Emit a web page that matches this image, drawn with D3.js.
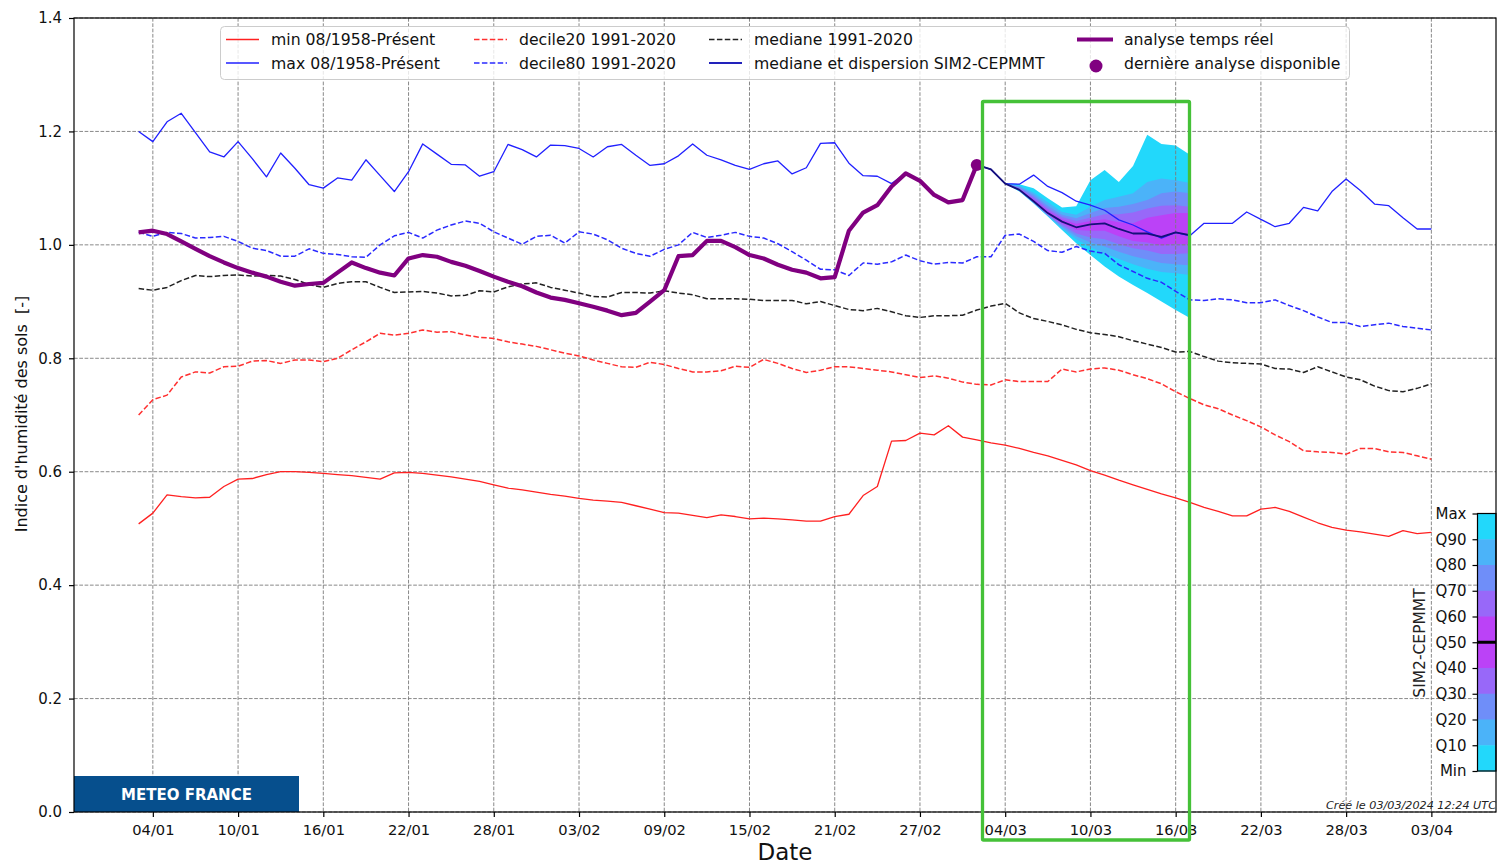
<!DOCTYPE html>
<html>
<head>
<meta charset="utf-8">
<script src="https://cdn.jsdelivr.net/npm/d3@7"></script>
<style>
  html, body { margin: 0; padding: 0; background: #fff; }
  svg { display: block; font-family: "DejaVu Sans", sans-serif; }
</style>
</head>
<body>
<svg id="chart" width="1497" height="865"></svg>
<script>
// ---------------- DATA ----------------
const startDay = "03/01/2024";   // first day of the series (dd/mm/yyyy)
const nDays = 92;                 // 03/01/2024 -> 03/04/2024

const tickLabels = ["04/01","10/01","16/01","22/01","28/01","03/02","09/02","15/02",
                    "21/02","27/02","04/03","10/03","16/03","22/03","28/03","03/04"];
const yTicks = [0.0, 0.2, 0.4, 0.6, 0.8, 1.0, 1.2, 1.4];

const minSeries = [
 0.508,0.527,0.559,0.556,0.554,0.555,0.574,0.587,0.588,0.595,
 0.600,0.600,0.599,0.597,0.595,0.593,0.590,0.587,0.598,0.599,
 0.597,0.594,0.591,0.587,0.583,0.577,0.571,0.568,0.564,0.560,
 0.557,0.553,0.550,0.548,0.546,0.540,0.534,0.528,0.527,0.523,
 0.519,0.524,0.521,0.517,0.518,0.517,0.515,0.513,0.513,0.521,
 0.525,0.558,0.574,0.654,0.655,0.668,0.665,0.681,0.661,0.656,
 0.651,0.647,0.641,0.634,0.628,0.620,0.612,0.602,0.594,0.585,
 0.577,0.569,0.561,0.554,0.546,0.537,0.530,0.522,0.522,0.534,
 0.537,0.530,0.520,0.510,0.502,0.497,0.494,0.490,0.486,0.496,
 0.491,0.493];

const maxSeries = [
 1.200,1.182,1.217,1.232,1.198,1.164,1.155,1.182,1.152,1.120,
 1.162,1.135,1.106,1.100,1.118,1.114,1.150,1.122,1.094,1.129,
 1.178,1.160,1.142,1.141,1.121,1.129,1.177,1.168,1.155,1.176,
 1.175,1.170,1.155,1.173,1.177,1.158,1.140,1.143,1.157,1.178,
 1.158,1.150,1.140,1.133,1.143,1.148,1.125,1.136,1.179,1.180,
 1.144,1.122,1.121,1.108,1.126,1.113,1.088,1.075,1.079,1.141,
 1.133,1.108,1.107,1.123,1.103,1.092,1.077,1.070,1.061,1.044,
 1.035,1.023,1.012,1.022,1.016,1.038,1.038,1.038,1.058,1.045,
 1.032,1.038,1.066,1.060,1.094,1.116,1.096,1.072,1.069,1.048,
 1.028,1.028];

const decile20 = [
 0.700,0.727,0.735,0.767,0.776,0.774,0.785,0.786,0.795,0.796,
 0.791,0.797,0.797,0.794,0.800,0.815,0.829,0.844,0.841,0.844,
 0.850,0.846,0.847,0.841,0.837,0.835,0.829,0.825,0.821,0.815,
 0.809,0.804,0.797,0.791,0.785,0.784,0.793,0.789,0.782,0.776,
 0.776,0.778,0.786,0.784,0.798,0.791,0.782,0.775,0.779,0.785,
 0.785,0.782,0.779,0.776,0.771,0.766,0.769,0.765,0.758,0.754,
 0.753,0.762,0.759,0.759,0.759,0.781,0.776,0.781,0.783,0.779,
 0.771,0.764,0.755,0.741,0.729,0.718,0.711,0.700,0.690,0.679,
 0.665,0.653,0.637,0.635,0.634,0.631,0.641,0.641,0.635,0.634,
 0.628,0.622];

const decile80 = [
 1.022,1.015,1.022,1.020,1.012,1.013,1.015,1.006,0.994,0.990,
 0.980,0.980,0.993,0.985,0.983,0.979,0.978,1.000,1.016,1.022,
 1.012,1.026,1.035,1.042,1.038,1.023,1.012,1.001,1.015,1.017,
 1.003,1.023,1.019,1.009,0.994,0.985,0.980,0.992,1.000,1.022,
 1.013,1.017,1.022,1.015,1.012,1.002,0.988,0.973,0.957,0.956,
 0.946,0.968,0.966,0.970,0.982,0.972,0.966,0.969,0.968,0.979,
 0.979,1.017,1.019,1.006,0.990,0.987,0.997,0.989,0.985,0.965,
 0.953,0.941,0.934,0.918,0.903,0.902,0.905,0.903,0.898,0.898,
 0.903,0.893,0.884,0.873,0.863,0.863,0.856,0.859,0.862,0.856,
 0.853,0.850];

const median19912020 = [
 0.923,0.920,0.925,0.937,0.946,0.944,0.946,0.947,0.945,0.946,
 0.945,0.939,0.930,0.925,0.932,0.935,0.935,0.925,0.916,0.917,
 0.918,0.915,0.910,0.911,0.919,0.917,0.926,0.931,0.933,0.925,
 0.920,0.915,0.909,0.908,0.916,0.916,0.915,0.919,0.915,0.912,
 0.905,0.905,0.905,0.904,0.902,0.902,0.902,0.896,0.900,0.893,
 0.886,0.884,0.888,0.882,0.875,0.872,0.875,0.875,0.876,0.885,
 0.892,0.897,0.880,0.870,0.865,0.859,0.851,0.845,0.842,0.838,
 0.831,0.825,0.819,0.811,0.812,0.803,0.795,0.792,0.791,0.790,
 0.782,0.781,0.775,0.785,0.776,0.767,0.762,0.751,0.743,0.741,
 0.747,0.755];

// real-time analysis: days 0..59
const analysis = [
 1.022,1.025,1.019,1.006,0.993,0.980,0.969,0.959,0.951,0.944,
 0.935,0.928,0.931,0.933,0.951,0.969,0.959,0.951,0.946,0.976,
 0.982,0.979,0.970,0.963,0.954,0.944,0.935,0.927,0.916,0.907,
 0.903,0.897,0.891,0.884,0.876,0.880,0.900,0.920,0.980,0.982,
 1.007,1.007,0.996,0.982,0.976,0.965,0.956,0.951,0.941,0.943,
 1.025,1.057,1.070,1.103,1.126,1.113,1.088,1.075,1.079,1.141];

// SIM2-CEPMMT forecast: days 59..74
const fcStart = 59;
const fcMedian = [1.141,1.133,1.108,1.097,1.077,1.056,1.041,1.031,1.036,1.038,1.028,1.020,1.020,1.014,1.022,1.017];
const fcMin    = [1.141,1.133,1.108,1.094,1.073,1.050,1.026,1.003,0.982,0.962,0.944,0.929,0.915,0.900,0.885,0.871];
const fcQ10    = [1.141,1.133,1.108,1.095,1.074,1.051,1.029,1.010,0.996,0.985,0.975,0.966,0.958,0.952,0.950,0.947];
const fcQ20    = [1.141,1.133,1.108,1.0955,1.0745,1.052,1.032,1.015,1.004,0.997,0.988,0.980,0.974,0.968,0.966,0.964];
const fcQ30    = [1.141,1.133,1.108,1.096,1.075,1.053,1.035,1.020,1.013,1.010,1.001,0.994,0.990,0.984,0.984,0.985];
const fcQ40    = [1.141,1.133,1.108,1.0965,1.076,1.054,1.038,1.026,1.025,1.025,1.015,1.007,1.004,0.999,1.002,1.000];
const fcQ60    = [1.141,1.133,1.108,1.098,1.080,1.060,1.045,1.037,1.042,1.045,1.040,1.038,1.048,1.052,1.056,1.056];
const fcQ70    = [1.141,1.133,1.108,1.100,1.084,1.064,1.049,1.042,1.048,1.054,1.054,1.057,1.064,1.069,1.070,1.067];
const fcQ80    = [1.141,1.133,1.108,1.102,1.088,1.069,1.053,1.047,1.056,1.065,1.067,1.072,1.079,1.091,1.094,1.091];
const fcQ90    = [1.141,1.133,1.108,1.104,1.092,1.075,1.058,1.053,1.067,1.079,1.085,1.091,1.111,1.117,1.114,1.109];
const fcMax    = [1.141,1.133,1.108,1.107,1.100,1.082,1.066,1.068,1.114,1.132,1.111,1.139,1.194,1.178,1.175,1.159];

const colorbarLabels = ["Max","Q90","Q80","Q70","Q60","Q50","Q40","Q30","Q20","Q10","Min"];

// ---------------- STYLE ----------------
const C_CYAN = "#22d8fb", C_LB = "#4bb3f9", C_PW = "#6f8ef9", C_VI = "#9868f9", C_MG = "#bb42f7";
const FONT = "DejaVu Sans";

// ---------------- SCALES ----------------
const parse = d3.utcParse("%d/%m/%Y");
const d0 = parse(startDay);
const dates = d3.range(nDays).map(i => d3.utcDay.offset(d0, i));
const last = dates[dates.length - 1];
const spanMs = last - d0;
const x = d3.scaleUtc()
  .domain([new Date(+d0 - spanMs * 0.05), new Date(+last + spanMs * 0.05)])
  .range([74, 1496]);
const y = d3.scaleLinear().domain([0, 1.4]).range([812, 18]);
const tickDates = tickLabels.map(s => parse(s + "/2024"));

const svg = d3.select("#chart");
svg.append("rect").attr("width", 1497).attr("height", 865).attr("fill", "#fff");

// ---------------- FAN ----------------
const fcDates = dates.slice(fcStart, fcStart + fcMedian.length);
const bands = [
  {lo: fcMin, hi: fcMax, c: C_CYAN},
  {lo: fcQ10, hi: fcQ90, c: C_LB},
  {lo: fcQ20, hi: fcQ80, c: C_PW},
  {lo: fcQ30, hi: fcQ70, c: C_VI},
  {lo: fcQ40, hi: fcQ60, c: C_MG}
];
const gFan = svg.append("g");
bands.forEach(b => {
  const area = d3.area()
    .x((d, i) => x(fcDates[i]))
    .y0((d, i) => y(b.lo[i]))
    .y1((d, i) => y(b.hi[i]));
  gFan.append("path").attr("d", area(fcDates)).attr("fill", b.c).attr("stroke", "none");
});

// ---------------- GRID ----------------
const gGrid = svg.append("g").attr("stroke", "#7c7c7c").attr("stroke-width", 0.9)
  .attr("stroke-dasharray", "3.7,1.6").attr("fill", "none");
tickDates.forEach(t => gGrid.append("line").attr("x1", x(t)).attr("x2", x(t)).attr("y1", 18).attr("y2", 812));
yTicks.forEach(v => gGrid.append("line").attr("x1", 74).attr("x2", 1496).attr("y1", y(v)).attr("y2", y(v)));

// ---------------- LINES ----------------
function drawLine(values, offset, color, width, dash) {
  const line = d3.line().x((d, i) => x(dates[i + offset])).y(d => y(d));
  const p = svg.append("path").attr("d", line(values)).attr("fill", "none")
    .attr("stroke", color).attr("stroke-width", width)
    .attr("stroke-linejoin", "round").attr("stroke-linecap", "butt");
  if (dash) p.attr("stroke-dasharray", dash);
  return p;
}
drawLine(minSeries, 0, "#ff2020", 1.3);
drawLine(maxSeries, 0, "#2020ff", 1.3);
drawLine(decile20, 0, "#ff3030", 1.5, "5.5,2.4");
drawLine(decile80, 0, "#2a2aff", 1.5, "5.5,2.4");
drawLine(median19912020, 0, "#222222", 1.5, "5.5,2.4");
drawLine(fcMedian, fcStart, "#14107a", 1.8);
drawLine(analysis, 0, "#800080", 4.2);
svg.append("circle").attr("cx", x(dates[analysis.length - 1])).attr("cy", y(analysis[analysis.length - 1]))
  .attr("r", 6).attr("fill", "#800080");

// ---------------- LOGO ----------------
svg.append("rect").attr("x", 74).attr("y", 776).attr("width", 225).attr("height", 36).attr("fill", "#064f8d");
svg.append("text").attr("x", 186.5).attr("y", 799.5).attr("text-anchor", "middle")
  .attr("fill", "#fff").attr("font-weight", "bold").attr("font-size", 15).attr("font-family", FONT)
  .text("METEO FRANCE");

// ---------------- COLORBAR ----------------
const cb = {x: 1477.5, top: 513.5, bottom: 771, w: 18.5};
const cbY = d3.scalePoint().domain(colorbarLabels).range([cb.top, cb.bottom]);
const cbColors = [C_CYAN, C_LB, C_PW, C_VI, C_MG, C_MG, C_VI, C_PW, C_LB, C_CYAN];
const step = cbY.step();
cbColors.forEach((c, i) => {
  svg.append("rect").attr("x", cb.x).attr("y", cbY(colorbarLabels[i])).attr("width", cb.w)
    .attr("height", step + 0.5).attr("fill", c);
});
svg.append("line").attr("x1", cb.x).attr("x2", cb.x + cb.w).attr("y1", cbY("Q50")).attr("y2", cbY("Q50"))
  .attr("stroke", "#000").attr("stroke-width", 3);
svg.append("rect").attr("x", cb.x).attr("y", cb.top).attr("width", cb.w).attr("height", cb.bottom - cb.top)
  .attr("fill", "none").attr("stroke", "#000").attr("stroke-width", 1.2);
const cbAxis = d3.axisLeft(cbY).tickSize(5).tickPadding(6);
const gCb = svg.append("g").attr("transform", `translate(${cb.x},0)`).call(cbAxis);
gCb.select(".domain").remove();
gCb.selectAll("text").attr("font-size", 15).attr("font-family", FONT).attr("fill", "#111");
gCb.selectAll("line").attr("stroke", "#000").attr("stroke-width", 1.2);
svg.append("text").attr("transform", "translate(1425,643) rotate(-90)").attr("text-anchor", "middle")
  .attr("font-size", 15.5).attr("font-family", FONT).attr("fill", "#222").text("SIM2-CEPMMT");

// ---------------- AXES ----------------
const xAxis = d3.axisBottom(x).tickValues(tickDates).tickFormat(d3.utcFormat("%d/%m")).tickSize(5).tickPadding(8);
const gx = svg.append("g").attr("transform", "translate(0,812)").call(xAxis);
gx.select(".domain").remove();
gx.selectAll("text").attr("font-size", 14.7).attr("font-family", FONT).attr("fill", "#111");
gx.selectAll("line").attr("stroke", "#000").attr("stroke-width", 1.2);

const yAxis = d3.axisLeft(y).tickValues(yTicks).tickFormat(d3.format(".1f")).tickSize(5).tickPadding(7);
const gy = svg.append("g").attr("transform", "translate(74,0)").call(yAxis);
gy.select(".domain").remove();
gy.selectAll("text").attr("font-size", 15).attr("font-family", FONT).attr("fill", "#111");
gy.selectAll("line").attr("stroke", "#000").attr("stroke-width", 1.2);

svg.append("rect").attr("x", 74).attr("y", 18).attr("width", 1422).attr("height", 794)
  .attr("fill", "none").attr("stroke", "#000").attr("stroke-width", 1.2);

svg.append("text").attr("x", 785).attr("y", 860).attr("text-anchor", "middle")
  .attr("font-size", 23).attr("font-family", FONT).attr("fill", "#111").text("Date");
svg.append("text").attr("transform", "translate(27,414) rotate(-90)").attr("text-anchor", "middle")
  .attr("font-size", 16).attr("font-family", FONT).attr("fill", "#111")
  .style("white-space", "pre").text("Indice d'humidité des sols  [-]");

svg.append("text").attr("x", 1326).attr("y", 809).attr("font-size", 11.2).attr("font-style", "italic")
  .attr("font-family", FONT).attr("fill", "#222").text("Créé le 03/03/2024 12:24 UTC");

// ---------------- LEGEND ----------------
svg.append("rect").attr("x", 220.5).attr("y", 26.5).attr("width", 1129).attr("height", 53).attr("rx", 4)
  .attr("fill", "#fff").attr("fill-opacity", 0.8).attr("stroke", "#cccccc").attr("stroke-width", 1);
const legendItems = [
  {x: 226, tx: 271, row: 0, color: "#ff2020", w: 1.3, label: "min 08/1958-Présent"},
  {x: 226, tx: 271, row: 1, color: "#2020ff", w: 1.3, label: "max 08/1958-Présent"},
  {x: 474, tx: 519, row: 0, color: "#ff3030", w: 1.5, dash: "5.5,2.4", label: "decile20 1991-2020"},
  {x: 474, tx: 519, row: 1, color: "#2a2aff", w: 1.5, dash: "5.5,2.4", label: "decile80 1991-2020"},
  {x: 709, tx: 754, row: 0, color: "#222222", w: 1.5, dash: "5.5,2.4", label: "mediane 1991-2020"},
  {x: 709, tx: 754, row: 1, color: "#2222bb", w: 1.8, label: "mediane et dispersion SIM2-CEPMMT"},
  {x: 1077, tx: 1124, row: 0, color: "#800080", w: 4.2, len: 36, label: "analyse temps réel"},
  {x: 1077, tx: 1124, row: 1, color: "#800080", dot: true, label: "dernière analyse disponible"}
];
const rowY = [39.5, 63];
legendItems.forEach(it => {
  const yy = rowY[it.row];
  if (it.dot) {
    svg.append("circle").attr("cx", 1096).attr("cy", yy + 3).attr("r", 6.5).attr("fill", it.color);
  } else {
    const l = svg.append("line").attr("x1", it.x).attr("x2", it.x + (it.len || 33)).attr("y1", yy).attr("y2", yy)
      .attr("stroke", it.color).attr("stroke-width", it.w);
    if (it.dash) l.attr("stroke-dasharray", it.dash);
  }
  svg.append("text").attr("x", it.tx).attr("y", yy).attr("dy", "0.36em")
    .attr("font-size", 15.7).attr("font-family", FONT).attr("fill", "#111").text(it.label);
});

// ---------------- GREEN HIGHLIGHT ----------------
svg.append("rect").attr("x", 982.5).attr("y", 101.5).attr("width", 207).attr("height", 738.5).attr("rx", 1)
  .attr("fill", "none").attr("stroke", "#45c138").attr("stroke-width", 3.3);
</script>
</body>
</html>
